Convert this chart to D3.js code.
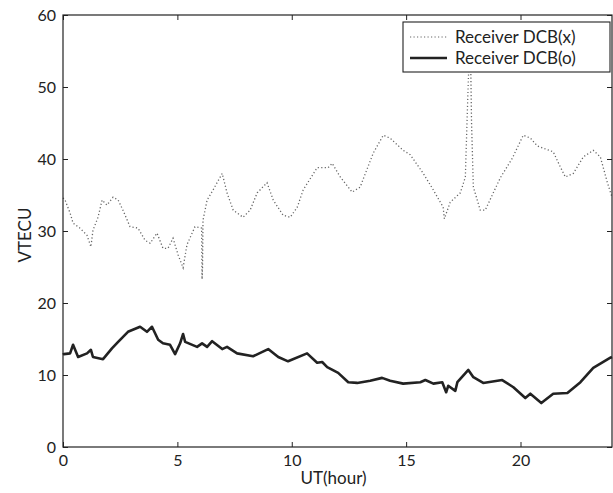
<!DOCTYPE html>
<html>
<head>
<meta charset="utf-8">
<script src="https://cdn.jsdelivr.net/npm/d3@7"></script>
<style>
  body { margin: 0; background: #fff; }
  text { font-family: Lato, "Open Sans", sans-serif; fill: #222; }
</style>
</head>
<body>
<svg id="chart"></svg>
<script>
// UT hours and VTEC values
const hoursX = [0, 0.09, 0.31, 0.44, 0.74, 1.05, 1.22, 1.31, 1.53, 1.71, 1.92, 2.19, 2.41, 2.62, 2.93, 3.28, 3.59, 3.81, 4.11, 4.37, 4.59, 4.81, 5.03, 5.25, 5.42, 5.77, 6.06, 6.08, 6.1, 6.12, 6.3, 6.56, 6.96, 7.17, 7.44, 7.87, 8.18, 8.49, 8.92, 9.19, 9.62, 9.93, 10.24, 10.5, 11.11, 11.59, 11.77, 12.12, 12.64, 12.99, 13.56, 14.0, 14.3, 14.87, 15.18, 15.75, 16.19, 16.62, 16.67, 16.93, 17.37, 17.59, 17.72, 17.8, 17.86, 17.94, 18.24, 18.46, 18.81, 19.12, 19.64, 20.12, 20.43, 20.74, 21.43, 21.74, 21.96, 22.31, 22.75, 23.18, 23.49, 23.8, 24.0];
const dcbX = [34.6, 34.3, 32.5, 31.1, 30.4, 29.4, 27.8, 30.1, 31.9, 34.3, 33.6, 34.7, 34.3, 32.9, 30.6, 30.4, 28.7, 28.3, 29.7, 27.6, 27.6, 29.0, 26.7, 24.9, 28.1, 30.6, 30.4, 23.3, 25.0, 31.5, 34.3, 35.7, 38.0, 35.3, 32.9, 31.9, 32.9, 35.3, 36.7, 34.3, 32.2, 31.9, 33.3, 35.7, 38.8, 38.8, 39.4, 37.5, 35.4, 36.1, 40.8, 43.3, 42.9, 41.2, 40.6, 38.0, 35.7, 33.3, 31.7, 34.0, 35.3, 37.5, 51.0, 58.5, 45.0, 36.1, 32.9, 32.9, 35.3, 37.4, 40.1, 43.3, 42.9, 41.8, 41.0, 38.9, 37.5, 38.0, 40.3, 41.2, 40.3, 36.7, 34.7];

const hoursO = [0, 0.04, 0.31, 0.44, 0.66, 1.05, 1.22, 1.31, 1.75, 2.14, 2.41, 2.84, 3.37, 3.67, 3.89, 4.16, 4.37, 4.68, 4.9, 5.12, 5.25, 5.34, 5.86, 6.08, 6.3, 6.52, 6.96, 7.17, 7.61, 8.31, 8.97, 9.41, 9.84, 10.67, 11.11, 11.33, 11.55, 12.03, 12.47, 12.86, 13.43, 13.95, 14.3, 14.87, 15.62, 15.84, 16.19, 16.58, 16.75, 16.84, 17.15, 17.24, 17.72, 17.94, 18.37, 19.2, 19.69, 20.21, 20.43, 20.91, 21.43, 22.05, 22.62, 23.18, 23.93, 24.0];
const dcbO = [12.8, 12.9, 13.0, 14.2, 12.5, 13.0, 13.5, 12.5, 12.2, 13.7, 14.6, 16.0, 16.7, 16.0, 16.7, 14.9, 14.4, 14.2, 12.9, 14.4, 15.7, 14.6, 13.9, 14.4, 13.9, 14.7, 13.6, 13.9, 13.0, 12.6, 13.6, 12.5, 11.9, 13.0, 11.7, 11.8, 11.1, 10.3, 9.0, 8.9, 9.2, 9.6, 9.2, 8.8, 9.0, 9.3, 8.8, 9.0, 7.6, 8.5, 7.8, 9.0, 10.7, 9.7, 8.9, 9.3, 8.3, 6.8, 7.4, 6.1, 7.4, 7.5, 9.0, 11.0, 12.4, 12.5];

const xTicks = [0, 5, 10, 15, 20];
const yTicks = [0, 10, 20, 30, 40, 50, 60];
const seriesNames = ["Receiver DCB(x)", "Receiver DCB(o)"];

const W = 613, H = 493;
const margin = { top: 15, right: 1, bottom: 46, left: 63 };
const width = W - margin.left - margin.right;
const height = H - margin.top - margin.bottom;

const svg = d3.select("#chart").attr("width", W).attr("height", H);
const g = svg.append("g").attr("transform", `translate(${margin.left},${margin.top})`);

const x = d3.scaleLinear().domain([0, 24]).range([0, width]);
const y = d3.scaleLinear().domain([0, 60]).range([height, 0]);

const line = d3.line().x(d => x(d[0])).y(d => y(d[1]));

// dotted series
g.append("path")
  .datum(d3.zip(hoursX, dcbX))
  .attr("fill", "none")
  .attr("stroke", "#666")
  .attr("stroke-width", 1.3)
  .attr("stroke-dasharray", "1.2,2.3")
  .attr("d", line);

// solid series
g.append("path")
  .datum(d3.zip(hoursO, dcbO))
  .attr("fill", "none")
  .attr("stroke", "#222")
  .attr("stroke-width", 2.6)
  .attr("stroke-linejoin", "round")
  .attr("d", line);

// axes (ticks inside, mirrored)
const tickStyle = sel => {
  sel.select(".domain").remove();
  sel.selectAll("line").attr("stroke", "#222");
  sel.selectAll("text").style("font-size", "16px").attr("fill", "#222");
};

g.append("g").attr("transform", `translate(0,${height})`)
  .call(d3.axisBottom(x).tickValues(xTicks).tickSize(-5).tickPadding(8))
  .call(tickStyle);
g.append("g")
  .call(d3.axisTop(x).tickValues(xTicks).tickSize(-5).tickFormat(""))
  .call(tickStyle);
g.append("g")
  .call(d3.axisLeft(y).tickValues(yTicks).tickSize(-5).tickPadding(7))
  .call(tickStyle);
g.append("g").attr("transform", `translate(${width},0)`)
  .call(d3.axisRight(y).tickValues(yTicks).tickSize(-5).tickFormat(""))
  .call(tickStyle);

g.append("rect")
  .attr("width", width).attr("height", height)
  .attr("fill", "none").attr("stroke", "#222").attr("stroke-width", 1.2);

// labels
svg.append("text")
  .attr("x", margin.left + width / 2 - 4).attr("y", 484)
  .attr("text-anchor", "middle").style("font-size", "17px")
  .text("UT(hour)");
svg.append("text")
  .attr("transform", `translate(31,${margin.top + height / 2 + 4}) rotate(-90)`)
  .attr("text-anchor", "middle").style("font-size", "17px")
  .text("VTECU");

// legend
const lg = svg.append("g").attr("transform", "translate(403,22)");
lg.append("rect").attr("width", 207).attr("height", 50)
  .attr("fill", "#fff").attr("stroke", "#222").attr("stroke-width", 1.1);
seriesNames.forEach((name, i) => {
  const yy = 15 + i * 21;
  lg.append("line")
    .attr("x1", 7).attr("x2", 44).attr("y1", yy).attr("y2", yy)
    .attr("stroke", i === 0 ? "#666" : "#222")
    .attr("stroke-width", i === 0 ? 1.2 : 2.6)
    .attr("stroke-dasharray", i === 0 ? "1.2,2.3" : null);
  lg.append("text")
    .attr("x", 52).attr("y", yy + 6)
    .style("font-size", "17px")
    .text(name);
});
</script>
</body>
</html>
